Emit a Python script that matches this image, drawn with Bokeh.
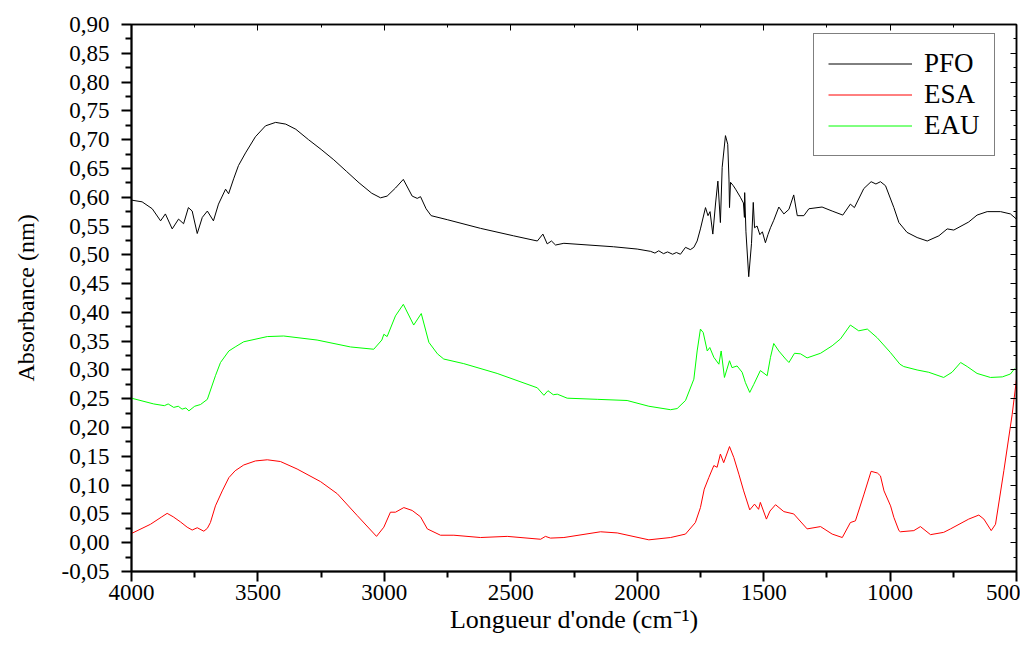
from bokeh.plotting import figure
from bokeh.models import Range1d, FixedTicker, CustomJSTickFormatter, LinearAxis
from bokeh.embed import file_html
from bokeh.resources import INLINE

# ---- data ----
pfo_x = [4000, 3958, 3918, 3885, 3866, 3839, 3814, 3794, 3775, 3760, 3740, 3720, 3700, 3676, 3656,
         3628, 3616, 3596, 3577, 3549, 3510, 3470, 3430, 3390, 3350, 3300, 3250, 3200, 3150, 3100,
         3050, 3015, 2989, 2956, 2925, 2890, 2870, 2857, 2835, 2815, 2751, 2620, 2489, 2395, 2373,
         2356, 2339, 2323, 2290, 2094, 2000, 1947, 1930, 1915, 1896, 1880, 1860, 1845, 1829, 1809,
         1790, 1776, 1763, 1750,
         1730, 1720, 1712, 1701, 1690, 1681, 1671, 1664, 1651, 1642, 1637, 1635, 1631, 1620, 1611,
         1592, 1580, 1576, 1575, 1570, 1559, 1548, 1541, 1536, 1526, 1515, 1505, 1493, 1483, 1473,
         1460, 1440, 1420, 1400, 1381, 1367, 1341, 1321, 1269, 1229, 1187, 1157, 1141, 1104, 1075,
         1056, 1038, 1018, 985, 965, 933, 893, 853, 807, 774, 748, 689, 656, 616, 563, 524, 500]
pfo_y = [0.595, 0.592, 0.580, 0.559, 0.571, 0.545, 0.562, 0.554, 0.582, 0.576, 0.537, 0.565, 0.576, 0.559, 0.588,
         0.614, 0.606, 0.632, 0.655, 0.677, 0.705, 0.724, 0.730, 0.727, 0.718, 0.700, 0.683, 0.665, 0.645, 0.625,
         0.607, 0.599, 0.602, 0.616, 0.631, 0.602, 0.598, 0.601, 0.580, 0.568, 0.561, 0.546, 0.533, 0.524, 0.536,
         0.519, 0.524, 0.517, 0.520, 0.514, 0.510, 0.506, 0.503, 0.507, 0.502, 0.505, 0.501, 0.504, 0.501, 0.513,
         0.509, 0.513, 0.524, 0.545,
         0.582, 0.568, 0.575, 0.536, 0.590, 0.628, 0.556, 0.652, 0.707, 0.692, 0.630, 0.582, 0.626, 0.620, 0.614,
         0.600, 0.590, 0.565, 0.608, 0.540, 0.462, 0.520, 0.591, 0.547, 0.550, 0.535, 0.540, 0.521, 0.535, 0.547,
         0.560, 0.583, 0.571, 0.579, 0.604, 0.568, 0.568, 0.580, 0.583, 0.576, 0.569, 0.588, 0.582, 0.615, 0.627,
         0.623, 0.627, 0.620, 0.582, 0.556, 0.539, 0.530, 0.524, 0.533, 0.545, 0.543, 0.557, 0.569, 0.575, 0.575, 0.571, 0.562]

eau_x = [4000, 3912, 3870, 3855, 3833, 3815, 3800, 3785, 3773, 3750, 3727, 3700, 3668, 3648, 3615, 3590, 3556, 3463, 3398,
         3266, 3134, 3042, 3010, 3002, 2989, 2956, 2925, 2884, 2854, 2824, 2790, 2765, 2686, 2554,
         2395, 2369, 2353, 2332, 2316, 2277, 2158, 2040, 1954, 1868, 1842, 1809, 1776, 1763, 1750,
         1739, 1723, 1713, 1697, 1677, 1668, 1655, 1635, 1625, 1605, 1585, 1572, 1555, 1539, 1513,
         1486, 1473, 1460, 1440, 1413, 1400, 1378, 1354, 1328, 1275, 1229, 1196, 1157, 1124, 1090,
         1051, 998, 961, 946, 893, 847, 788, 755, 721, 695, 656, 603, 556, 524, 508, 500]
eau_y = [0.251, 0.241, 0.238, 0.241, 0.235, 0.237, 0.232, 0.234, 0.229, 0.237, 0.240, 0.249, 0.290, 0.313, 0.333, 0.340, 0.349, 0.358, 0.359,
         0.352, 0.340, 0.336, 0.352, 0.362, 0.358, 0.394, 0.414, 0.378, 0.398, 0.348, 0.328, 0.319, 0.311, 0.294,
         0.269, 0.256, 0.264, 0.257, 0.258, 0.251, 0.249, 0.247, 0.237, 0.231, 0.233, 0.247, 0.284, 0.333, 0.371,
         0.365, 0.333, 0.339, 0.322, 0.310, 0.333, 0.287, 0.316, 0.304, 0.307, 0.296, 0.278, 0.261, 0.275, 0.299,
         0.290, 0.322, 0.346, 0.333, 0.319, 0.313, 0.329, 0.328, 0.321, 0.329, 0.342, 0.354, 0.378, 0.368, 0.371,
         0.356, 0.330, 0.310, 0.306, 0.300, 0.296, 0.287, 0.296, 0.313, 0.306, 0.294, 0.287, 0.288, 0.293, 0.302, 0.300]

esa_x = [4000, 3925, 3880, 3859, 3835, 3806, 3780, 3760, 3740, 3714, 3700, 3688, 3668, 3641, 3615,
         3590, 3556, 3510, 3463, 3411, 3345, 3252, 3186, 3107, 3031, 3002, 2976, 2956, 2923, 2890,
         2857, 2830, 2778, 2725, 2620, 2514, 2382, 2363, 2343, 2290, 2145, 2079, 1954, 1868, 1809,
         1770, 1750, 1735, 1717, 1697, 1684, 1671, 1658, 1635, 1618, 1598, 1579, 1555, 1536, 1520,
         1513, 1489, 1475, 1453, 1420, 1381, 1328, 1275, 1229, 1189, 1157, 1137, 1104, 1075, 1050,
         1038, 1024, 998, 985, 965, 959, 906, 880, 840, 788, 761, 689, 649, 629, 600, 583, 550, 517, 500]
esa_y = [0.016, 0.032, 0.045, 0.051, 0.045, 0.036, 0.027, 0.022, 0.026, 0.020, 0.025, 0.035, 0.064, 0.090, 0.113,
         0.125, 0.135, 0.142, 0.144, 0.141, 0.128, 0.106, 0.085, 0.047, 0.011, 0.027, 0.053, 0.053, 0.061, 0.056,
         0.045, 0.024, 0.013, 0.013, 0.009, 0.011, 0.006, 0.011, 0.008, 0.009, 0.019, 0.017, 0.005, 0.009, 0.015,
         0.035, 0.061, 0.093, 0.113, 0.134, 0.131, 0.154, 0.139, 0.167, 0.148, 0.119, 0.090, 0.057, 0.067, 0.058,
         0.070, 0.041, 0.055, 0.066, 0.054, 0.050, 0.024, 0.028, 0.015, 0.009, 0.035, 0.038, 0.083, 0.124, 0.121,
         0.116, 0.090, 0.064, 0.044, 0.021, 0.019, 0.021, 0.028, 0.014, 0.018, 0.024, 0.041, 0.048, 0.041, 0.021, 0.032, 0.125, 0.223, 0.284]

x_ticks = [4000, 3500, 3000, 2500, 2000, 1500, 1000, 500]
x_minor = [3750, 3250, 2750, 2250, 1750, 1250, 750]
y_ticks = [-0.05, 0.00, 0.05, 0.10, 0.15, 0.20, 0.25, 0.30, 0.35, 0.40, 0.45,
           0.50, 0.55, 0.60, 0.65, 0.70, 0.75, 0.80, 0.85, 0.90]
y_minor = [-0.025, 0.025, 0.075, 0.125, 0.175, 0.225, 0.275, 0.325, 0.375, 0.425,
           0.475, 0.525, 0.575, 0.625, 0.675, 0.725, 0.775, 0.825, 0.875]

FONT = "Liberation Serif"

p = figure(width=1020, height=639, output_backend="svg", toolbar_location=None,
           x_range=Range1d(4000, 500), y_range=Range1d(-0.05, 0.90),
           min_border_left=131, min_border_right=4, min_border_top=24, min_border_bottom=68)
p.grid.visible = False
p.outline_line_color = "black"
p.outline_line_width = 1.5
p.background_fill_color = "white"
p.border_fill_color = "white"

p.line(pfo_x, pfo_y, line_color="#000000", line_width=1, legend_label="PFO")
p.line(esa_x, esa_y, line_color="#ff0000", line_width=1, legend_label="ESA")
p.line(eau_x, eau_y, line_color="#00ff00", line_width=1, legend_label="EAU")

xt = FixedTicker(ticks=x_ticks, minor_ticks=x_minor)
yt = FixedTicker(ticks=y_ticks, minor_ticks=y_minor)

xa = p.xaxis[0]
xa.ticker = xt
xa.formatter = CustomJSTickFormatter(code="return tick.toFixed(0);")
ya = p.yaxis[0]
ya.ticker = yt
ya.formatter = CustomJSTickFormatter(code="return tick.toFixed(2).replace('.', ',');")

for ax in (xa, ya):
    ax.axis_line_width = 2
    ax.axis_line_color = "black"
    ax.major_tick_line_width = 2
    ax.minor_tick_line_width = 2
    ax.major_tick_in = 0
    ax.major_tick_out = 10
    ax.minor_tick_in = 0
    ax.minor_tick_out = 6
    ax.major_label_text_font = FONT
    ax.major_label_text_font_size = "23px"
    ax.major_label_text_color = "black"
    ax.axis_label_text_font = FONT
    ax.axis_label_text_font_style = "normal"
    ax.axis_label_text_color = "black"

xa.axis_label = "Longueur d'onde (cm\u207b\u00b9)"
xa.axis_label_text_font_size = "26px"
xa.major_label_standoff = 3
xa.axis_label_standoff = 2
ya.axis_label = "Absorbance (nm)"
ya.axis_label_text_font_size = "24px"
ya.major_label_standoff = 12
ya.axis_label_standoff = 20

# mirror axes (ticks only)
top = LinearAxis(ticker=xt, major_label_text_font_size="0px", axis_line_width=1.5,
                 major_tick_in=6, major_tick_out=0, minor_tick_in=3, minor_tick_out=0,
                 major_label_standoff=0)
right = LinearAxis(ticker=yt, major_label_text_font_size="0px", axis_line_width=1.5,
                   major_tick_in=6, major_tick_out=0, minor_tick_in=3, minor_tick_out=0,
                   major_label_standoff=0)
p.add_layout(top, "above")
p.add_layout(right, "right")

legend = p.legend[0]
legend.location = (682, 415)
legend.label_text_font = FONT
legend.label_text_font_size = "27px"
legend.label_text_color = "black"
legend.glyph_width = 84
legend.glyph_height = 31
legend.label_height = 31
legend.label_standoff = 12
legend.spacing = 0
legend.padding = 14
legend.margin = 0
legend.border_line_color = "black"
legend.border_line_width = 1.5
legend.background_fill_color = "white"
legend.background_fill_alpha = 1

open("out.html", "w").write(file_html(p, INLINE))
